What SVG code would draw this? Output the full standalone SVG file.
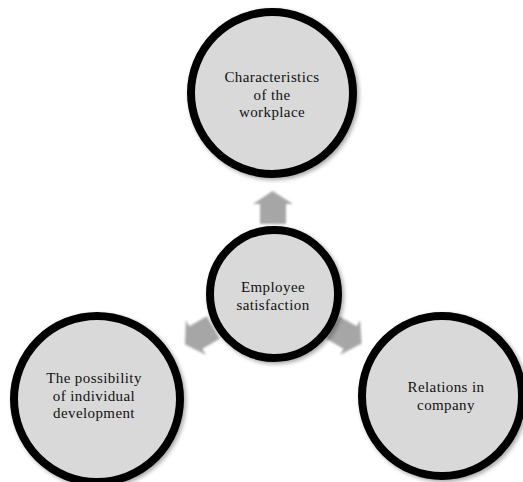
<svg xmlns="http://www.w3.org/2000/svg" width="523" height="482" viewBox="0 0 523 482">
  <style>
    .ring { fill: #d9d9d9; stroke: #000; stroke-width: 8; filter: url(#shadow); }
    .label { font-family: 'Liberation Serif', 'DejaVu Serif', serif; font-size: 15px; letter-spacing: 0.4px; fill: #111; text-anchor: middle; }
    .arrow { fill: #a6a6a6; filter: url(#soft); }
  </style>
  <defs>
    <filter id="shadow" x="-10%" y="-10%" width="125%" height="125%">
      <feGaussianBlur in="SourceAlpha" stdDeviation="2"/>
      <feOffset dx="1.5" dy="2" result="b"/>
      <feComponentTransfer><feFuncA type="linear" slope="0.35"/></feComponentTransfer>
      <feMerge><feMergeNode/><feMergeNode in="SourceGraphic"/></feMerge>
    </filter>
    <filter id="soft" x="-20%" y="-20%" width="140%" height="140%">
      <feGaussianBlur stdDeviation="0.8"/>
    </filter>
    <!-- block arrow pointing up from the hub -->
    <path id="blockArrow" d="M260,224 L260,204 L253,204 L272.5,191 L293,204 L286,204 L286,224 Z"/>
  </defs>

  <g id="connectors">
    <use href="#blockArrow" class="arrow"/>
    <use href="#blockArrow" class="arrow" transform="rotate(120 273 293)"/>
    <use href="#blockArrow" class="arrow" transform="rotate(-120 273 293)"/>
  </g>

  <g id="workplace">
    <circle class="ring" cx="272" cy="93" r="81"/>
    <text class="label" x="272" y="82">Characteristics</text>
    <text class="label" x="272" y="99.5">of the</text>
    <text class="label" x="272" y="117">workplace</text>
  </g>

  <g id="satisfaction">
    <circle class="ring" cx="274" cy="294" r="64"/>
    <text class="label" x="273" y="292">Employee</text>
    <text class="label" x="273" y="309.5">satisfaction</text>
  </g>

  <g id="development">
    <circle class="ring" cx="97" cy="399" r="83"/>
    <text class="label" x="94" y="383">The possibility</text>
    <text class="label" x="94" y="400.5">of individual</text>
    <text class="label" x="94" y="418">development</text>
  </g>

  <g id="relations">
    <circle class="ring" cx="442" cy="396" r="80"/>
    <text class="label" x="446" y="392">Relations in</text>
    <text class="label" x="446" y="409.5">company</text>
  </g>
</svg>
